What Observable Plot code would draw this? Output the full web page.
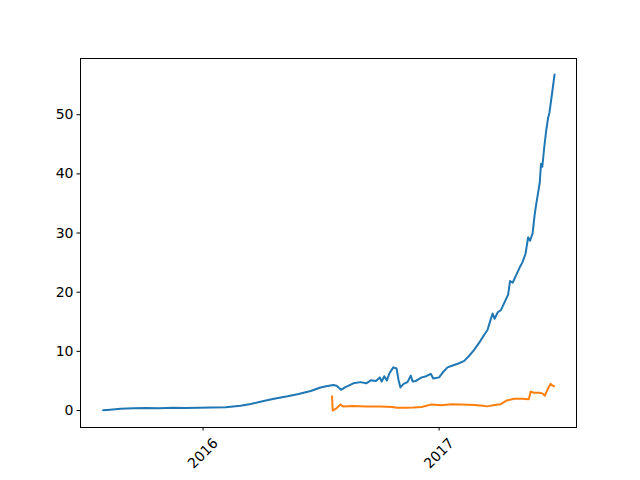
<!DOCTYPE html>
<html><head><meta charset="utf-8">
<script src="https://cdn.jsdelivr.net/npm/d3@7"></script>
<script src="https://cdn.jsdelivr.net/npm/@observablehq/plot@0.6"></script>
<style>body{margin:0;background:#fff}</style>
</head><body><div id="chart"></div>
<script>
const blueDates = ["2015-07-30","2015-08-10","2015-08-26","2015-09-15","2015-10-05","2015-10-25","2015-11-15","2015-12-05","2015-12-25","2016-01-15","2016-02-05","2016-02-28","2016-03-15","2016-04-04","2016-04-20","2016-05-11","2016-05-28","2016-06-16","2016-07-01","2016-07-10","2016-07-21","2016-07-26","2016-08-02","2016-08-08","2016-08-21","2016-09-01","2016-09-10","2016-09-17","2016-09-25","2016-10-01","2016-10-04","2016-10-08","2016-10-12","2016-10-16","2016-10-22","2016-10-27","2016-10-30","2016-11-02","2016-11-07","2016-11-13","2016-11-18","2016-11-21","2016-11-26","2016-12-05","2016-12-12","2016-12-19","2016-12-23","2017-01-01","2017-01-08","2017-01-14","2017-01-22","2017-01-30","2017-02-09","2017-02-17","2017-02-24","2017-03-05","2017-03-12","2017-03-17","2017-03-22","2017-03-25","2017-03-28","2017-04-02","2017-04-07","2017-04-12","2017-04-18","2017-04-21","2017-04-25","2017-05-01","2017-05-06","2017-05-10","2017-05-15","2017-05-19","2017-05-22","2017-05-26","2017-05-29","2017-05-31","2017-06-03","2017-06-06","2017-06-08","2017-06-10","2017-06-13","2017-06-16","2017-06-19","2017-06-21","2017-06-25","2017-06-29"];
const blueValues = [0.05,0.15,0.3,0.38,0.42,0.4,0.45,0.42,0.48,0.5,0.55,0.8,1.1,1.6,2.0,2.4,2.8,3.3,3.9,4.1,4.3,4.2,3.5,3.9,4.6,4.8,4.6,5.1,5.0,5.6,4.9,5.8,5.1,6.3,7.3,7.1,5.2,3.9,4.5,4.8,5.9,4.9,5.0,5.6,5.8,6.2,5.4,5.6,6.6,7.3,7.6,7.9,8.4,9.3,10.2,11.6,12.8,13.6,15.4,16.4,15.5,16.6,17.0,18.2,19.6,21.9,21.6,23.0,24.2,25.0,26.5,29.3,28.7,30.0,33.0,34.5,36.5,38.5,41.7,41.2,44.5,47.3,49.5,50.3,53.5,56.8];
const orangeDates = ["2016-07-19","2016-07-20","2016-07-25","2016-08-01","2016-08-05","2016-08-20","2016-09-10","2016-10-01","2016-10-20","2016-10-28","2016-11-10","2016-11-22","2016-12-05","2016-12-19","2017-01-05","2017-01-20","2017-02-03","2017-02-25","2017-03-10","2017-03-17","2017-03-28","2017-04-06","2017-04-16","2017-04-27","2017-05-10","2017-05-20","2017-05-23","2017-05-28","2017-06-05","2017-06-10","2017-06-14","2017-06-19","2017-06-23","2017-06-26","2017-06-28"];
const orangeValues = [2.4,0.0,0.3,1.0,0.7,0.75,0.7,0.7,0.6,0.45,0.45,0.5,0.6,1.0,0.9,1.05,1.0,0.95,0.8,0.7,0.95,1.05,1.7,2.0,2.0,1.9,3.2,3.0,3.0,2.9,2.5,3.8,4.5,4.2,4.1];
const xTickDates = ["2016-01-01","2017-01-01"];
const yTicks = [0,10,20,30,40,50];

const blue = blueDates.map((d,i)=>({date:new Date(d), value:blueValues[i]}));
const orange = orangeDates.map((d,i)=>({date:new Date(d), value:orangeValues[i]}));
const xTicks = xTickDates.map(d=>new Date(d));

const chart = Plot.plot({
  width:640, height:480,
  marginLeft:80, marginRight:64, marginTop:58, marginBottom:53,
  style:{fontFamily:"DejaVu Sans", fontSize:"14px", background:"white", color:"black"},
  x:{type:"utc", domain:[new Date("2015-06-25"), new Date("2017-08-02")]},
  y:{domain:[-2.87,59.5]},
  marks:[
    Plot.axisY({ticks:yTicks, tickSize:3.5, tickPadding:3.5, label:null, fontSize:14}),
    Plot.axisX({ticks:xTicks, tickSize:3.5, tickFormat:()=>"", label:null}),
    Plot.text(xTicks, {x:d=>d, text:d=>d3.utcFormat("%Y")(d), frameAnchor:"bottom", rotate:-45, dy:26, textAnchor:"middle", lineAnchor:"middle", fontSize:14, fill:"black"}),
    Plot.line(blue, {x:"date", y:"value", stroke:"#1f77b4", strokeWidth:2}),
    Plot.line(orange, {x:"date", y:"value", stroke:"#ff7f0e", strokeWidth:2}),
    Plot.frame({stroke:"black", strokeWidth:1})
  ]
});
document.getElementById("chart").appendChild(chart);
</script>
</body></html>
